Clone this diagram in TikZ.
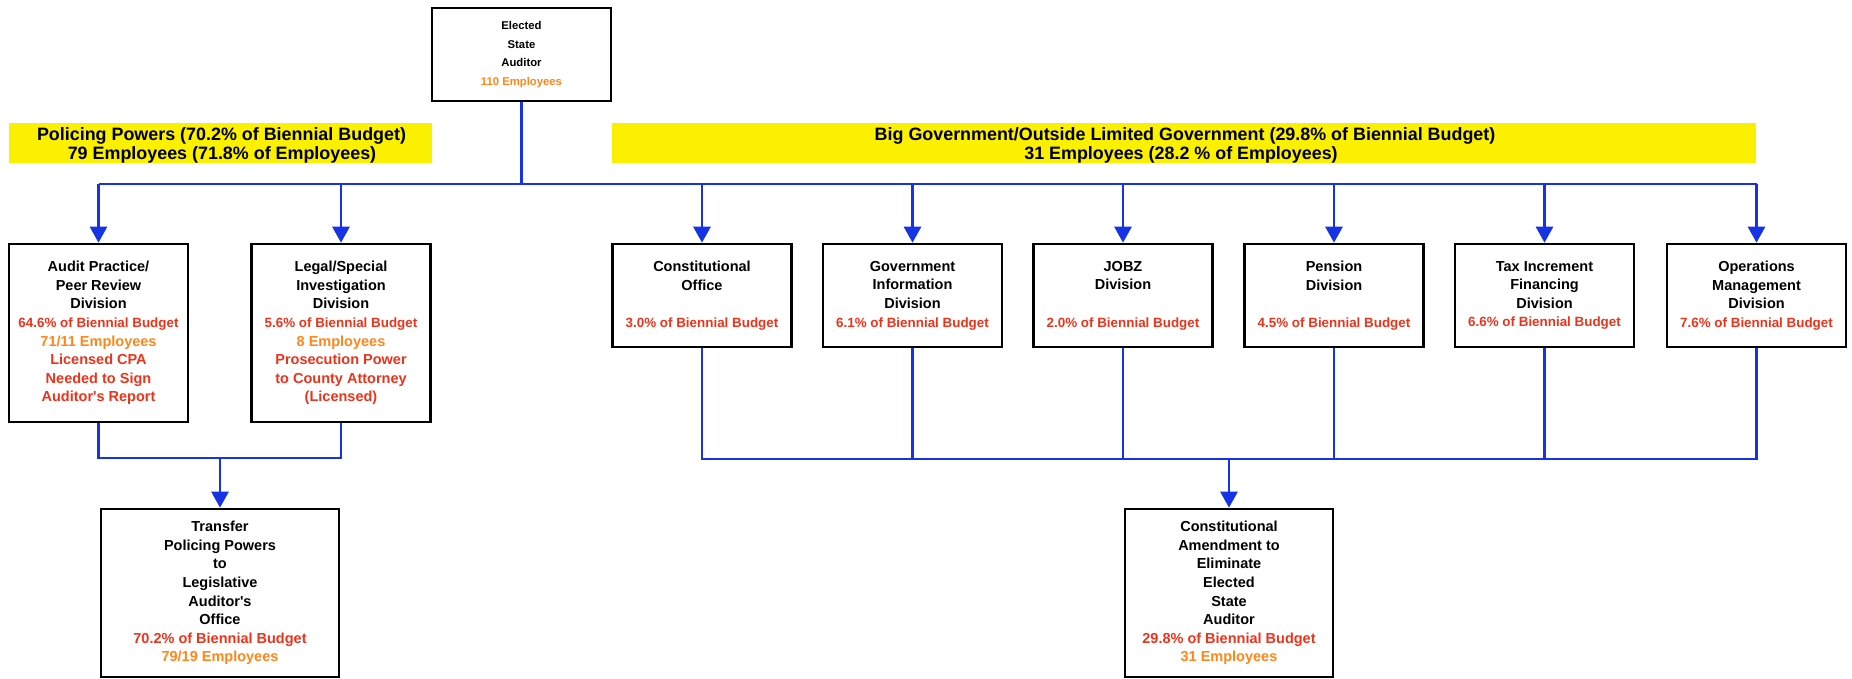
\documentclass[tikz,border=0pt]{standalone}
\usepackage{fontspec}
\setmainfont{Liberation Sans}
\usetikzlibrary{arrows.meta}
\definecolor{bl}{RGB}{22,52,230}
\definecolor{rd}{RGB}{235,52,28}
\definecolor{orn}{RGB}{255,135,25}
\definecolor{yl}{RGB}{251,240,0}
\newcommand{\budgetline}[1]{{\color{rd}\fontsize{13.4}{18.6}\selectfont #1}}
\newcommand{\redline}[1]{{\color{rd}#1}}
\newcommand{\ornline}[1]{{\color{orn}#1}}
\newcommand{\apo}{\textquotesingle}
\begin{document}
\begin{tikzpicture}[x=1pt,y=-1pt,
  box/.style={draw=black,line width=2.6pt,fill=white,inner sep=0pt,align=center,
    font=\bfseries\fontsize{14.5}{18.6}\selectfont},
  divbox/.style={box,minimum width=179pt,minimum height=178pt},
  smallbox/.style={box,minimum width=179pt,minimum height=103pt},
  lowbox/.style={box,minimum height=168pt},
  band/.style={fill=yl,inner sep=0pt,minimum height=40pt},
  bandtext/.style={anchor=base,inner sep=0pt,font=\bfseries\fontsize{17.9}{18.6}\selectfont},
  conn/.style={draw=bl,line width=2.8pt},
  arr/.style={conn,-{Triangle[width=17pt,length=16pt]}}]
\useasboundingbox (0,0) rectangle (1852,679);

% top box
\node[box,minimum width=179pt,minimum height=93pt,font=\bfseries\fontsize{11.3}{18.7}\selectfont]
  (top) at (521.5,54.5) {Elected\\State\\Auditor\\\ornline{110 Employees}};

% yellow bands
\node[band,minimum width=423pt] (bandL) at (220.5,143) {};
\node[band,minimum width=1144pt] (bandR) at (1184,143) {};
\node[bandtext] (bl1) at (221.5,140.7) {Policing Powers (70.2\% of Biennial Budget)};
\node[bandtext] (bl2) at (222,159.3) {79 Employees (71.8\% of Employees)};
\node[bandtext] (br1) at (1185,140.7) {Big Government/Outside Limited Government (29.8\% of Biennial Budget)};
\node[bandtext] (br2) at (1181,159.3) {31 Employees (28.2 \% of Employees)};

% division boxes
\node[divbox] (ap) at (98.5,333) {Audit Practice/\\Peer Review\\Division\\\budgetline{64.6\% of Biennial Budget}\\
  \ornline{71/11 Employees}\\\redline{Licensed CPA}\\\redline{Needed to Sign}\\\redline{Auditor\apo s Report}};
\node[divbox] (ls) at (341,333) {Legal/Special\\Investigation\\Division\\\budgetline{5.6\% of Biennial Budget}\\
  \ornline{8 Employees}\\\redline{Prosecution Power}\\\redline{to County Attorney}\\\redline{(Licensed)}};

\node[smallbox] (co) at (702,295.5) {Constitutional\\Office\\[18.6pt]\budgetline{3.0\% of Biennial Budget}};
\node[smallbox] (gi) at (912.5,295.5) {Government\\Information\\Division\\\budgetline{6.1\% of Biennial Budget}};
\node[smallbox] (jz) at (1123,295.5) {JOBZ\\Division\\[18.6pt]\budgetline{2.0\% of Biennial Budget}};
\node[smallbox] (pe) at (1334,295.5) {Pension\\Division\\[18.6pt]\budgetline{4.5\% of Biennial Budget}};
\node[smallbox] (ti) at (1544.5,295.5) {Tax Increment\\Financing\\Division\\\budgetline{6.6\% of Biennial Budget}};
\node[smallbox] (om) at (1756.5,295.5) {Operations\\Management\\Division\\\budgetline{7.6\% of Biennial Budget}};

% lower boxes
\node[lowbox,minimum width=238pt] (tr) at (220,593) {Transfer\\Policing Powers\\to\\Legislative\\Auditor\apo s\\Office\\
  \redline{70.2\% of Biennial Budget}\\\ornline{79/19 Employees}};
\node[lowbox,minimum width=208pt] (ca) at (1229,593) {Constitutional\\Amendment to\\Eliminate\\Elected\\State\\Auditor\\
  \redline{29.8\% of Biennial Budget}\\\ornline{31 Employees}};

% connectors
\coordinate (bus) at (0,184);
\coordinate (lowL) at (0,458);
\coordinate (lowR) at (0,459);
\draw[conn] (top.south) -- (top.south |- bus);
\draw[conn] (ap.north |- bus) -- (om.north |- bus);
\foreach \n in {ap,ls,co,gi,jz,pe,ti,om}
  \draw[arr] (\n.north |- bus) -- (\n.north);

\draw[conn] (ap.south) -- (ap.south |- lowL) -- (ls.south |- lowL) -- (ls.south);
\draw[arr] (tr.north |- lowL) -- (tr.north);

\draw[conn] (co.south) -- (co.south |- lowR) -- (om.south |- lowR) -- (om.south);
\foreach \n in {gi,jz,pe,ti}
  \draw[conn] (\n.south) -- (\n.south |- lowR);
\draw[arr] (ca.north |- lowR) -- (ca.north);
\end{tikzpicture}
\end{document}
